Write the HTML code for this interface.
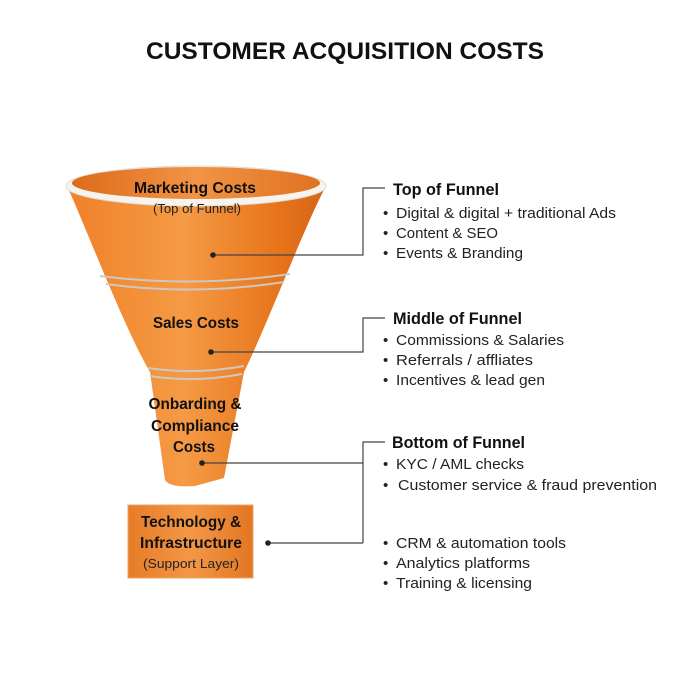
<!DOCTYPE html>
<html><head><meta charset="utf-8"><style>
html,body{margin:0;padding:0;background:#fff;}
svg{display:block;font-family:"Liberation Sans",sans-serif;}
</style></head><body>
<svg width="690" height="690" viewBox="0 0 690 690" xmlns="http://www.w3.org/2000/svg">
<defs>
<linearGradient id="cone" x1="0" x2="1" y1="0" y2="0">
<stop offset="0" stop-color="#ef8129"/><stop offset="0.45" stop-color="#f59a45"/><stop offset="0.8" stop-color="#e7761c"/><stop offset="1" stop-color="#d66416"/>
</linearGradient>
<linearGradient id="inner" x1="0" x2="1" y1="0" y2="0">
<stop offset="0" stop-color="#dc6c1a"/><stop offset="0.5" stop-color="#f29345"/><stop offset="1" stop-color="#df7322"/>
</linearGradient>
<linearGradient id="box" x1="0" x2="1"><stop offset="0" stop-color="#e67c28"/><stop offset="0.5" stop-color="#f39746"/><stop offset="1" stop-color="#e37622"/></linearGradient>
</defs>
<text x="345" y="59" text-anchor="middle" font-size="24" font-weight="bold" fill="#111" textLength="398" lengthAdjust="spacingAndGlyphs">CUSTOMER ACQUISITION COSTS</text>
<path d="M67,186 C85,225 125,330 150,372 L165,480 Q170,488 195,486 L224,478 L244,372 C265,330 305,225 326,186 Z" fill="url(#cone)"/>
<ellipse cx="196" cy="186" rx="130" ry="20" fill="#f7f3ef" stroke="#e2dcd6" stroke-width="1"/>
<ellipse cx="196" cy="183" rx="124" ry="16" fill="url(#inner)"/>
<path d="M100,276 Q195,288 290,274" stroke="#cfc8c2" stroke-width="2" fill="none"/>
<path d="M106,284 Q195,296 284,282" stroke="#cfc8c2" stroke-width="2" fill="none"/>
<path d="M148,368 Q195,375 244,366" stroke="#cfc8c2" stroke-width="2" fill="none"/>
<path d="M150,376 Q195,383 242,374" stroke="#cfc8c2" stroke-width="2" fill="none"/>
<rect x="128" y="505" width="125" height="73" fill="url(#box)" stroke="#e9a46a"/>
<g font-weight="bold" fill="#111" text-anchor="middle" font-size="16">
<text x="195" y="193" textLength="122" lengthAdjust="spacingAndGlyphs">Marketing Costs</text>
<text x="196" y="328" textLength="86" lengthAdjust="spacingAndGlyphs">Sales Costs</text>
<text x="195" y="409" textLength="93" lengthAdjust="spacingAndGlyphs">Onbarding &amp;</text>
<text x="195" y="431" textLength="88" lengthAdjust="spacingAndGlyphs">Compliance</text>
<text x="194" y="452" textLength="42" lengthAdjust="spacingAndGlyphs">Costs</text>
<text x="191" y="527" textLength="100" lengthAdjust="spacingAndGlyphs">Technology &amp;</text>
<text x="191" y="548" textLength="102" lengthAdjust="spacingAndGlyphs">Infrastructure</text>
</g>
<g fill="#222" text-anchor="middle" font-size="13">
<text x="197" y="213" textLength="88" lengthAdjust="spacingAndGlyphs">(Top of Funnel)</text>
<text x="191" y="568" textLength="96" lengthAdjust="spacingAndGlyphs">(Support Layer)</text>
</g>
<g stroke="#444" stroke-width="1.2" fill="none">
<path d="M213,255 H363 V188 H385"/>
<path d="M211,352 H363 V318 H385"/>
<path d="M202,463 H363"/>
<path d="M363,543 V442 H385"/>
<path d="M268,543 H363"/>
</g>
<g fill="#222"><circle cx="213" cy="255" r="2.8"/><circle cx="211" cy="352" r="2.8"/><circle cx="202" cy="463" r="2.8"/><circle cx="268" cy="543" r="2.8"/></g>
<g font-weight="bold" fill="#111" font-size="17">
<text x="393" y="195" textLength="106" lengthAdjust="spacingAndGlyphs">Top of Funnel</text>
<text x="393" y="324" textLength="129" lengthAdjust="spacingAndGlyphs">Middle of Funnel</text>
<text x="392" y="448" textLength="133" lengthAdjust="spacingAndGlyphs">Bottom of Funnel</text>
</g>
<g fill="#222" font-size="15">
<text x="383" y="218">•</text><text x="396" y="218" textLength="220" lengthAdjust="spacingAndGlyphs">Digital &amp; digital + traditional Ads</text>
<text x="383" y="238">•</text><text x="396" y="238" textLength="102" lengthAdjust="spacingAndGlyphs">Content &amp; SEO</text>
<text x="383" y="258">•</text><text x="396" y="258" textLength="127" lengthAdjust="spacingAndGlyphs">Events &amp; Branding</text>
<text x="383" y="345">•</text><text x="396" y="345" textLength="168" lengthAdjust="spacingAndGlyphs">Commissions &amp; Salaries</text>
<text x="383" y="365">•</text><text x="396" y="365" textLength="137" lengthAdjust="spacingAndGlyphs">Referrals / affliates</text>
<text x="383" y="385">•</text><text x="396" y="385" textLength="149" lengthAdjust="spacingAndGlyphs">Incentives &amp; lead gen</text>
<text x="383" y="469">•</text><text x="396" y="469" textLength="128" lengthAdjust="spacingAndGlyphs">KYC / AML checks</text>
<text x="383" y="490">•</text><text x="398" y="490" textLength="259" lengthAdjust="spacingAndGlyphs">Customer service &amp; fraud prevention</text>
<text x="383" y="548">•</text><text x="396" y="548" textLength="170" lengthAdjust="spacingAndGlyphs">CRM &amp; automation tools</text>
<text x="383" y="568">•</text><text x="396" y="568" textLength="134" lengthAdjust="spacingAndGlyphs">Analytics platforms</text>
<text x="383" y="588">•</text><text x="396" y="588" textLength="136" lengthAdjust="spacingAndGlyphs">Training &amp; licensing</text>
</g>
</svg>
</body></html>
